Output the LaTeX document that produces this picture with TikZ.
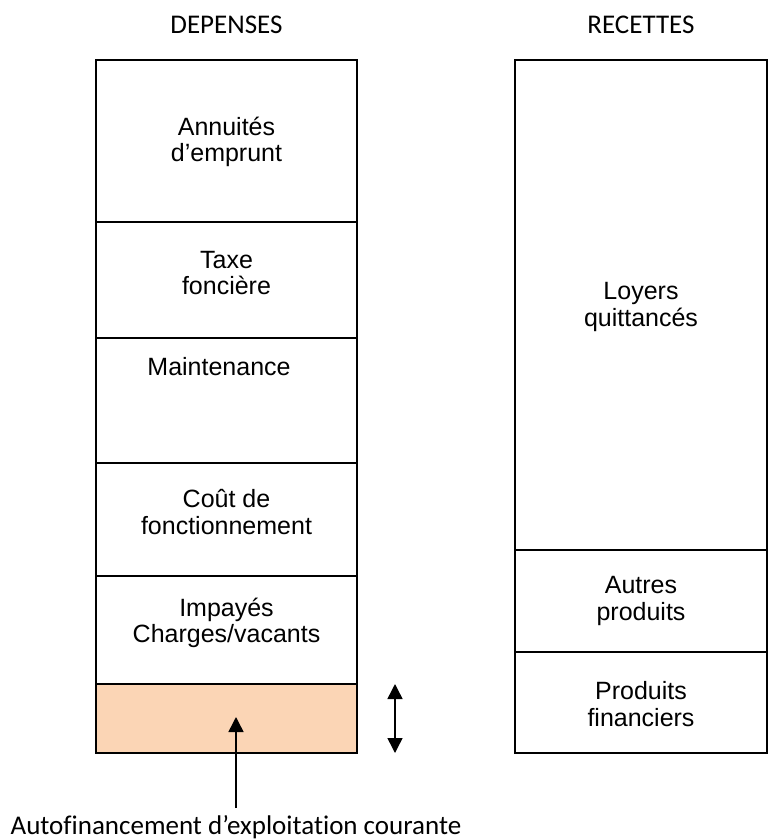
\documentclass[tikz,border=0pt]{standalone}
\usepackage{fontspec}
\setmainfont{Liberation Sans}
\newfontfamily\headfont[Ligatures=NoCommon]{Carlito}
\usetikzlibrary{arrows.meta,positioning}

\definecolor{peach}{RGB}{251,213,181}

\begin{document}
\begin{tikzpicture}[x=1pt,y=-1pt,
    cell/.style={draw, line width=1.5pt, rectangle, inner sep=0pt},
    lbl/.style={align=center, font=\fontsize{25}{26.5}\selectfont},
    head/.style={font=\headfont\fontsize{27}{30}\selectfont},
    tip/.style={-{Triangle[width=15pt,length=15pt]}, line width=1.5pt},
    twotips/.style={{Triangle[width=15pt,length=15pt]}-{Triangle[width=15pt,length=15pt]}, line width=1.5pt}]
    \useasboundingbox (0,0) rectangle (768,840);

    % Headings
    \node[head] (dep) at (226.5,25) {DEPENSES};
    \node[head] (rec) at (641,25) {RECETTES};

    % Expenses column
    \node[cell, minimum width=261pt, minimum height=162pt] (annu) at (226.5,141) {};
    \node[cell, minimum width=261pt, minimum height=116pt] (taxe) at (226.5,280) {};
    \node[cell, minimum width=261pt, minimum height=125pt] (maint) at (226.5,400.5) {};
    \node[cell, minimum width=261pt, minimum height=113pt] (cout) at (226.5,519.5) {};
    \node[cell, minimum width=261pt, minimum height=108pt] (imp) at (226.5,630) {};
    \node[cell, fill=peach, minimum width=261pt, minimum height=69pt] (autof) at (226.5,718.5) {};

    \node[lbl] (annut) at (226.5,142) {Annuités\\d’emprunt};
    \node[lbl] (taxet) at (226.5,273) {Taxe\\foncière};
    \node[lbl] (maintt) at (219,367) {Maintenance};
    \node[lbl] (coutt) at (226.5,512) {Coût de\\fonctionnement};
    \node[lbl] (impt) at (226.5,623) {Impayés\\Charges/vacants};

    % Receipts column
    \node[cell, minimum width=252pt, minimum height=490pt] (loy) at (641,305) {};
    \node[cell, minimum width=252pt, minimum height=102pt] (autr) at (641,601) {};
    \node[cell, minimum width=252pt, minimum height=101pt] (fin) at (641,702.5) {};

    \node[lbl] (loyt) at (641,307) {Loyers\\quittancés};
    \node[lbl] (autrt) at (641,601) {Autres\\produits};
    \node[lbl] (fint) at (641,704) {Produits\\financiers};

    % Self-financing margin
    \coordinate (up) at (395,684);
    \coordinate (dn) at (395,753);
    \draw[twotips] (up) -- (dn);

    \node[head] (caf) at (236,827) {Autofinancement d’exploitation courante};
    \coordinate (cafpt) at (236,717);
    \coordinate (cafbot) at (236,808);
    \draw[tip] (cafbot) -- (cafpt);
\end{tikzpicture}
\end{document}
